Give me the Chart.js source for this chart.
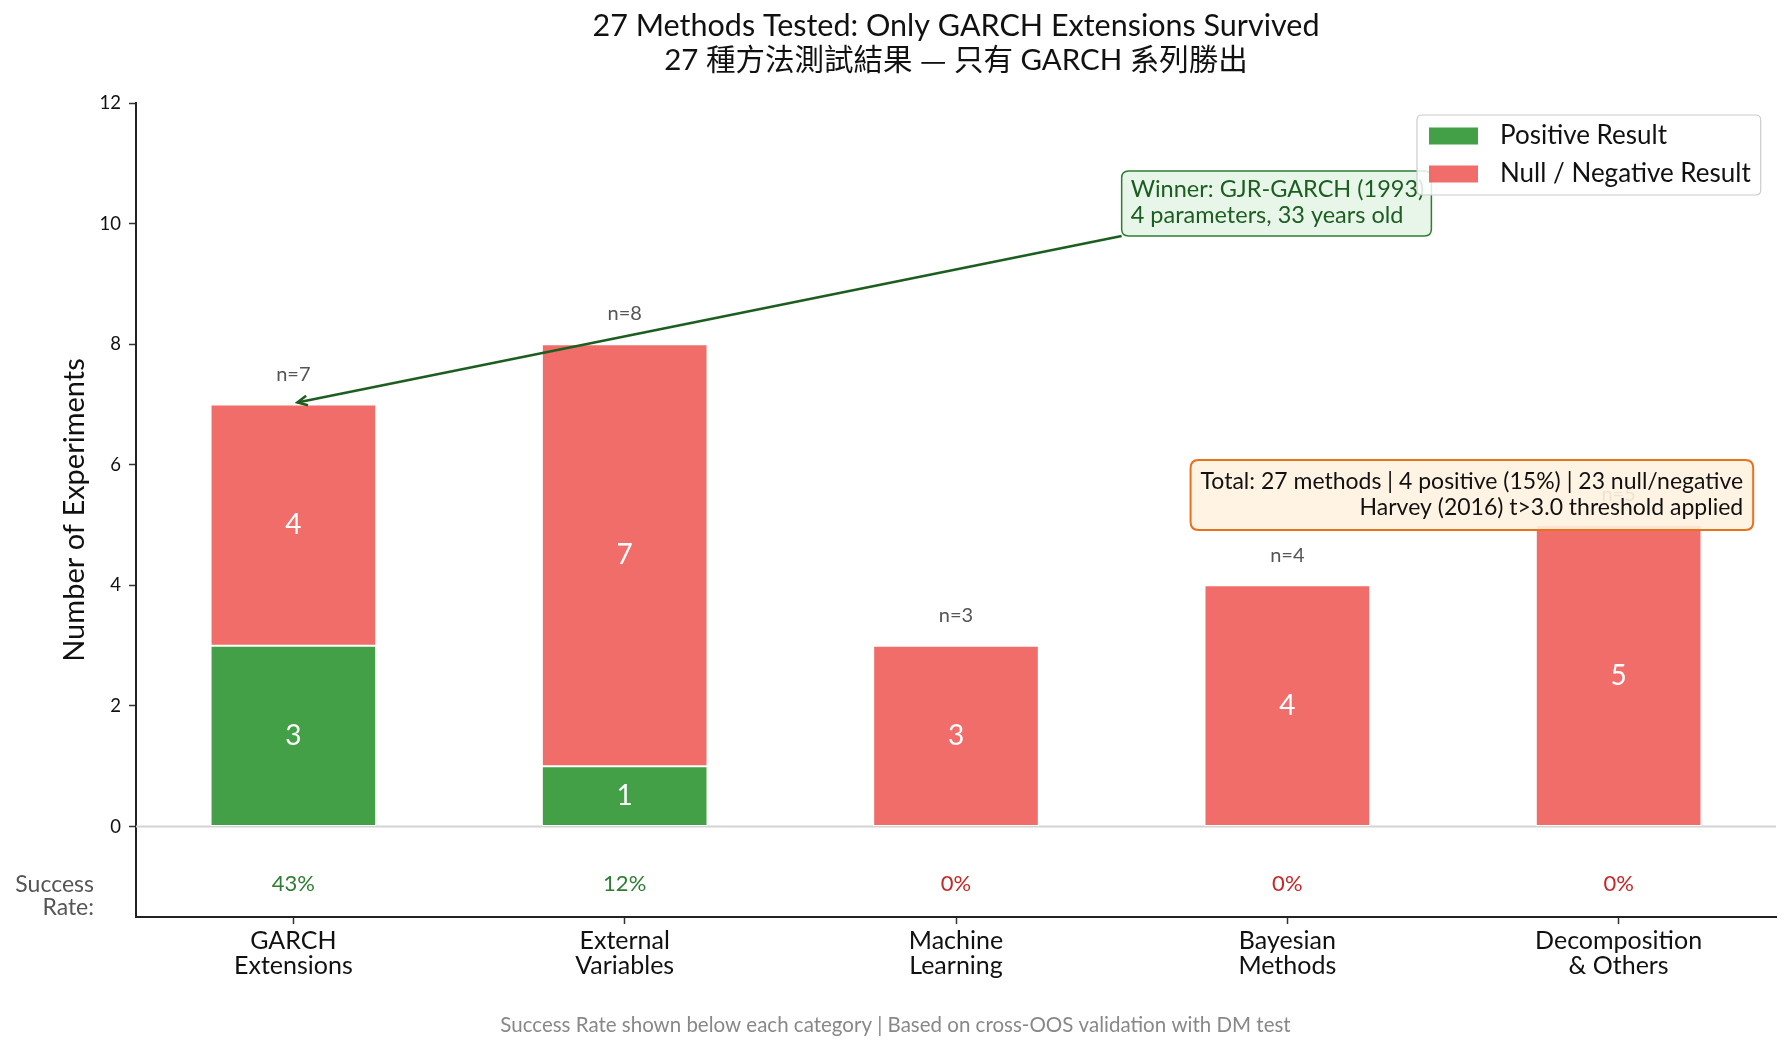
<!DOCTYPE html>
<html>
<head>
<meta charset="utf-8">
<script src="https://cdn.jsdelivr.net/npm/chart.js@4.4.1/dist/chart.umd.min.js"></script>
<style>
  html, body { margin: 0; padding: 0; background: #ffffff; }
  #wrap { width: 1791px; height: 1050px; }
</style>
</head>
<body>
<div id="wrap"><canvas id="c" width="1791" height="1050"></canvas></div>
<script>
// ---------- data ----------
const categories = [["GARCH", "Extensions"], ["External", "Variables"], ["Machine", "Learning"], ["Bayesian", "Methods"], ["Decomposition", "& Others"]];
const positive = [3, 1, 0, 0, 0];
const nullNegative = [4, 7, 3, 4, 5];
const successRate = ["43%", "12%", "0%", "0%", "0%"];
const yTicks = [0, 2, 4, 6, 8, 10, 12];
const titleLine1 = "27 Methods Tested: Only GARCH Extensions Survived";
const titleLine2 = ["27 種方法測試結果 ", "—", " 只有 GARCH 系列勝出"];
const legendLabels = ["Positive Result", "Null / Negative Result"];
const winnerLines = ["Winner: GJR-GARCH (1993)", "4 parameters, 33 years old"];
const totalLines = ["Total: 27 methods | 4 positive (15%) | 23 null/negative", "Harvey (2016) t>3.0 threshold applied"];
const footerText = "Success Rate shown below each category | Based on cross-OOS validation with DM test";

const FONT = "Lato, 'Noto Sans CJK TC', sans-serif";
const CJK = "'Noto Sans CJK TC', sans-serif";
const GREEN = "#43A047";
const RED = "rgba(239,83,80,0.85)";

Chart.defaults.font.family = FONT;

function roundRect(ctx, x, y, w, h, r) {
  ctx.beginPath();
  ctx.moveTo(x + r, y);
  ctx.lineTo(x + w - r, y);
  ctx.quadraticCurveTo(x + w, y, x + w, y + r);
  ctx.lineTo(x + w, y + h - r);
  ctx.quadraticCurveTo(x + w, y + h, x + w - r, y + h);
  ctx.lineTo(x + r, y + h);
  ctx.quadraticCurveTo(x, y + h, x, y + h - r);
  ctx.lineTo(x, y + r);
  ctx.quadraticCurveTo(x, y, x + r, y);
  ctx.closePath();
}

const overlay = {
  id: "overlay",
  beforeDatasetsDraw(chart) {
    const ctx = chart.ctx, ys = chart.scales.y, ca = chart.chartArea;
    ctx.save();
    ctx.strokeStyle = "#d3d3d3";
    ctx.lineWidth = 2;
    const y0 = ys.getPixelForValue(0);
    ctx.beginPath();
    ctx.moveTo(ca.left, y0);
    ctx.lineTo(ca.right, y0);
    ctx.stroke();
    ctx.restore();
  },
  afterDatasetsDraw(chart) {
    const ctx = chart.ctx, xs = chart.scales.x, ys = chart.scales.y, ca = chart.chartArea;
    ctx.save();
    // value labels in segments
    ctx.textAlign = "center";
    ctx.textBaseline = "middle";
    ctx.fillStyle = "#ffffff";
    ctx.font = "28px " + FONT;
    chart.data.datasets.forEach((ds, di) => {
      const meta = chart.getDatasetMeta(di);
      meta.data.forEach((el, i) => {
        const v = ds.data[i].y;
        if (v > 0) ctx.fillText(String(v), el.x, (el.y + el.base) / 2);
      });
    });
    // n= labels
    ctx.fillStyle = "#555555";
    ctx.font = "20px " + FONT;
    categories.forEach((c, i) => {
      const tot = positive[i] + nullNegative[i];
      ctx.fillText("n=" + tot, xs.getPixelForValue(i), ys.getPixelForValue(tot + 0.5));
    });
    // success rates
    ctx.font = "22px " + FONT;
    categories.forEach((c, i) => {
      ctx.fillStyle = positive[i] > 0 ? "#2E7D32" : "#C62828";
      ctx.fillText(successRate[i], xs.getPixelForValue(i), ys.getPixelForValue(-0.95));
    });

    // winner annotation
    ctx.font = "23.5px " + FONT;
    const tx = xs.getPixelForValue(2.5) + 9;
    const lh = 26;
    const l2y = 215, l1y = l2y - lh;
    const w1 = Math.max(...winnerLines.map(s => ctx.measureText(s).width));
    const bx = tx - 9, by = 171, bw = w1 + 16, bh = 65;
    // arrow
    const tipX = xs.getPixelForValue(0) + 4, tipY = ys.getPixelForValue(7) - 2;
    const sx = bx, sy = by + bh;
    ctx.strokeStyle = "#1B5E20";
    ctx.lineWidth = 2.5;
    ctx.beginPath();
    ctx.moveTo(sx, sy);
    ctx.lineTo(tipX, tipY);
    ctx.stroke();
    const ang = Math.atan2(sy - tipY, sx - tipX);
    const hl = 11, ha = 0.45;
    ctx.beginPath();
    ctx.moveTo(tipX + hl * Math.cos(ang + ha), tipY + hl * Math.sin(ang + ha));
    ctx.lineTo(tipX, tipY);
    ctx.lineTo(tipX + hl * Math.cos(ang - ha), tipY + hl * Math.sin(ang - ha));
    ctx.stroke();
    // box
    roundRect(ctx, bx, by, bw, bh, 7);
    ctx.fillStyle = "#E8F5E9";
    ctx.fill();
    ctx.lineWidth = 1.5;
    ctx.strokeStyle = "#2E7D32";
    ctx.stroke();
    ctx.fillStyle = "#1B5E20";
    ctx.textAlign = "left";
    ctx.textBaseline = "middle";
    ctx.fillText(winnerLines[0], tx, l1y);
    ctx.fillText(winnerLines[1], tx, l2y);

    // total box
    ctx.font = "23px " + FONT;
    const rx = ca.left + 0.98 * (ca.right - ca.left);
    const tw = Math.max(...totalLines.map(s => ctx.measureText(s).width));
    const tbx = rx - tw - 10, tby = 460, tbw = tw + 20, tbh = 70;
    roundRect(ctx, tbx, tby, tbw, tbh, 8);
    ctx.fillStyle = "rgba(255,243,224,0.9)";
    ctx.fill();
    ctx.lineWidth = 2;
    ctx.strokeStyle = "#E8711C";
    ctx.stroke();
    ctx.fillStyle = "#111111";
    ctx.textAlign = "right";
    ctx.textBaseline = "middle";
    ctx.fillText(totalLines[0], rx, 482);
    ctx.fillText(totalLines[1], rx, 508);

    // legend
    ctx.font = "26px " + FONT;
    const lw = Math.max(...legendLabels.map(s => ctx.measureText(s).width));
    const lx = 1417, ly = 115, lbw = 1500 - lx + lw + 10, lbh = 80;
    roundRect(ctx, lx, ly, lbw, lbh, 5);
    ctx.fillStyle = "rgba(255,255,255,0.85)";
    ctx.fill();
    ctx.lineWidth = 1.2;
    ctx.strokeStyle = "#cccccc";
    ctx.stroke();
    const rows = [136, 174];
    const cols = [GREEN, RED];
    ctx.textAlign = "left";
    ctx.textBaseline = "middle";
    rows.forEach((ry, k) => {
      ctx.fillStyle = cols[k];
      ctx.fillRect(1429, ry - 8.5, 49, 17);
      ctx.fillStyle = "#111111";
      ctx.fillText(legendLabels[k], 1500, ry);
    });
    ctx.restore();
  },
  afterDraw(chart) {
    const ctx = chart.ctx, ca = chart.chartArea;
    ctx.save();
    const cx = (ca.left + ca.right) / 2;
    ctx.fillStyle = "#111111";
    ctx.textAlign = "center";
    ctx.textBaseline = "middle";
    ctx.font = "30.5px " + FONT;
    ctx.fillText(titleLine1, cx, 26);
    // line 2 with CJK dash
    const fonts = ["29.5px " + FONT, "29.5px " + CJK, "29.5px " + FONT];
    const widths = titleLine2.map((s, k) => { ctx.font = fonts[k]; return ctx.measureText(s).width; });
    let x = cx - widths.reduce((a, b) => a + b, 0) / 2;
    ctx.textAlign = "left";
    titleLine2.forEach((s, k) => { ctx.font = fonts[k]; ctx.fillText(s, x, 60); x += widths[k]; });
    // y title
    ctx.save();
    ctx.textAlign = "center";
    ctx.translate(75, (ca.top + ca.bottom) / 2);
    ctx.rotate(-Math.PI / 2);
    ctx.font = "29px " + FONT;
    ctx.fillText("Number of Experiments", 0, 0);
    ctx.restore();
    // success rate label
    ctx.fillStyle = "#555555";
    ctx.font = "23px " + FONT;
    ctx.textAlign = "right";
    ctx.fillText("Success", 94, 885);
    ctx.fillText("Rate:", 94, 908);
    // footer (centered on the figure)
    ctx.fillStyle = "#888888";
    ctx.font = "20.5px " + FONT;
    ctx.textAlign = "center";
    ctx.fillText(footerText, chart.width / 2, 1025);
    ctx.restore();
  }
};

new Chart(document.getElementById("c"), {
  type: "bar",
  data: {
    datasets: [
      {
        label: legendLabels[0],
        data: positive.map((v, i) => ({ x: i, y: v })),
        backgroundColor: GREEN,
        borderColor: "#ffffff",
        borderWidth: ctx => (ctx.raw && ctx.raw.y > 0 ? 1 : 0),
        borderSkipped: false,
        barPercentage: 0.5,
        categoryPercentage: 1.0
      },
      {
        label: legendLabels[1],
        data: nullNegative.map((v, i) => ({ x: i, y: v })),
        backgroundColor: RED,
        borderColor: "#ffffff",
        borderWidth: 1,
        borderSkipped: false,
        barPercentage: 0.5,
        categoryPercentage: 1.0
      }
    ]
  },
  options: {
    responsive: false,
    animation: false,
    devicePixelRatio: 1,
    layout: { padding: { top: 103, right: 15, left: 0, bottom: 0 } },
    plugins: { legend: { display: false }, title: { display: false }, tooltip: { enabled: false } },
    scales: {
      x: {
        type: "linear",
        stacked: true,
        offset: false,
        min: -0.475,
        max: 4.475,
        afterFit: s => { s.height = 133; },
        afterBuildTicks: s => { s.ticks = categories.map((c, i) => ({ value: i })); },
        ticks: {
          callback: (v) => categories[v] || "",
          color: "#111111",
          font: { size: 25, lineHeight: 1.0 },
          padding: 4,
          maxRotation: 0,
          autoSkip: false
        },
        grid: { offset: false, drawOnChartArea: false, color: "rgba(0,0,0,0)", tickColor: "#333333", tickLength: 7, tickWidth: 1.5 },
        border: { display: true, color: "#222222", width: 2 }
      },
      y: {
        stacked: true,
        min: -1.5,
        max: 12,
        afterFit: s => { s.width = 136; },
        afterBuildTicks: s => { s.ticks = yTicks.map(v => ({ value: v })); },
        ticks: { color: "#111111", font: { size: 18.5 }, padding: 8 },
        grid: { drawOnChartArea: false, color: "rgba(0,0,0,0)", tickColor: "#333333", tickLength: 7, tickWidth: 1.5 },
        border: { display: true, color: "#222222", width: 2 }
      }
    }
  },
  plugins: [overlay]
});
</script>
</body>
</html>
